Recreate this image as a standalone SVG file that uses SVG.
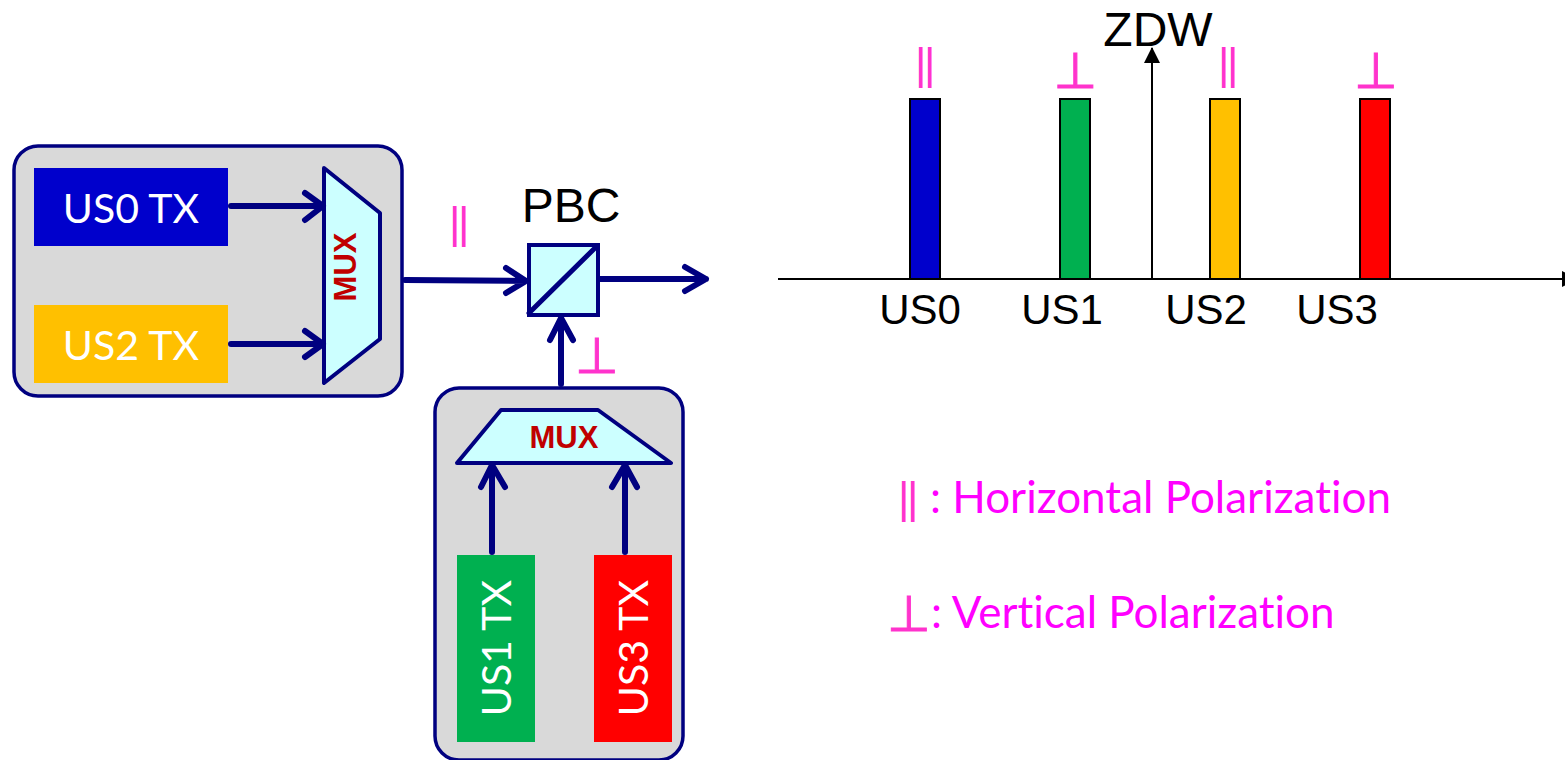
<svg xmlns="http://www.w3.org/2000/svg" width="1565" height="760" viewBox="0 0 1565 760">
<style>
.panel{fill:#D9D9D9;stroke:#000080;stroke-width:3.5}
.mux{fill:#CCFFFF;stroke:#000080;stroke-width:4;stroke-linejoin:round}
.muxt{font:bold 31px "Liberation Sans",Arial,sans-serif;fill:#C00000;text-anchor:middle}
.tx{font:41px Lato,"Open Sans",sans-serif;fill:#fff;text-anchor:middle}
.ar{font:48px "Liberation Sans",Arial,sans-serif;fill:#000;text-anchor:middle}
.lab{font:42px "Liberation Sans",Arial,sans-serif;fill:#000;text-anchor:middle}
.leg{font:44px Lato,"Open Sans",sans-serif;fill:#FF00FF;font-variant-ligatures:none}
.par{font:44px "Liberation Sans",Arial,sans-serif;fill:#FF33CC;letter-spacing:-2.5px}
.perp{font:50px "DejaVu Sans",sans-serif;fill:#FF33CC;stroke:#FF33CC;stroke-width:1;text-anchor:middle}
.c{fill:none;stroke:#000080;stroke-width:6;stroke-linecap:round;stroke-linejoin:round}
.bar{stroke:#000;stroke-width:2}
.ax{fill:none;stroke:#000;stroke-width:2}
</style>
<defs>
<marker id="tri" markerUnits="userSpaceOnUse" markerWidth="16" markerHeight="16" refX="15" refY="8" orient="auto"><path d="M0,0L16,8L0,16Z" fill="#000"/></marker>
</defs>
<g id="panel-left"><rect class="panel" x="14" y="146" width="388" height="250" rx="24"/></g>
<g id="panel-bottom"><rect class="panel" x="435" y="388" width="248" height="372" rx="24"/></g>
<g id="us0-tx"><rect x="34" y="168" width="194" height="78" fill="#0000CC"/><text class="tx" x="131" y="223">US0 TX</text></g>
<g id="us2-tx"><rect x="34" y="305" width="194" height="78" fill="#FFC000"/><text class="tx" x="131" y="360">US2 TX</text></g>
<g id="mux-left"><path class="mux" d="M324,168L380,213V339L324,383Z"/><text class="muxt" transform="translate(356,267) rotate(-90)">MUX</text></g>
<g id="mux-bottom"><path class="mux" d="M501,410H598L671,463H457Z"/><text class="muxt" x="564" y="448">MUX</text></g>
<g id="us1-tx"><rect x="457" y="555" width="78" height="187" fill="#00B050"/><text class="tx" transform="translate(511,648) rotate(-90)">US1 TX</text></g>
<g id="us3-tx"><rect x="594" y="555" width="78" height="187" fill="#FF0000"/><text class="tx" transform="translate(648,648) rotate(-90)">US3 TX</text></g>
<g id="pbc"><rect x="529" y="245" width="69" height="70" fill="#CCFFFF" stroke="#000080" stroke-width="4"/><path d="M529,313L597,246" stroke="#000080" stroke-width="5" stroke-linecap="round"/><text class="ar" x="571" y="222">PBC</text></g>
<g id="connectors">
<path class="c" d="M231,206H322M305,193L323,206L305,220"/>
<path class="c" d="M231,344H322M305,331L323,344L305,357"/>
<path class="c" d="M405,280L526,281M506,268L526,281L506,293"/>
<path class="c" d="M600,279H706M685,267L706,279L685,291"/>
<path class="c" d="M561,384V318M550,340L561,318L573,340"/>
<path class="c" d="M492,552V465M481,487L492,465L505,487"/>
<path class="c" d="M625,552V465M612,487L625,465L637,487"/>
<path class="ax" d="M778,279H1577" marker-end="url(#tri)"/>
<path class="ax" d="M1152,279V48" marker-end="url(#tri)"/>
</g>
<g id="bar-us0"><rect class="bar" x="910" y="99" width="30" height="180" fill="#0000CC"/><text class="lab" x="920" y="324">US0</text></g>
<g id="bar-us1"><rect class="bar" x="1060" y="99" width="30" height="180" fill="#00B050"/><text class="lab" x="1062" y="324">US1</text></g>
<g id="bar-us2"><rect class="bar" x="1210" y="99" width="30" height="180" fill="#FFC000"/><text class="lab" x="1206" y="324">US2</text></g>
<g id="bar-us3"><rect class="bar" x="1360" y="99" width="30" height="180" fill="#FF0000"/><text class="lab" x="1337" y="324">US3</text></g>
<g id="zdw"><text class="ar" x="1158" y="46">ZDW</text></g>
<g id="symbols">
<text class="par" x="449" y="238">||</text>
<text class="perp" x="597" y="373">⊥</text>
<text class="par" x="915" y="79">||</text>
<text class="perp" x="1075.500" y="88">⊥</text>
<text class="par" x="1218" y="79">||</text>
<text class="perp" x="1376" y="88">⊥</text>
<text class="par" x="898" y="513">||</text>
<text class="perp" x="909" y="631">⊥</text>
</g>
<g id="legend">
<text class="leg" x="930" y="513">: Horizontal Polarization</text>
<text class="leg" x="931" y="628">: Vertical Polarization</text>
</g>
</svg>
